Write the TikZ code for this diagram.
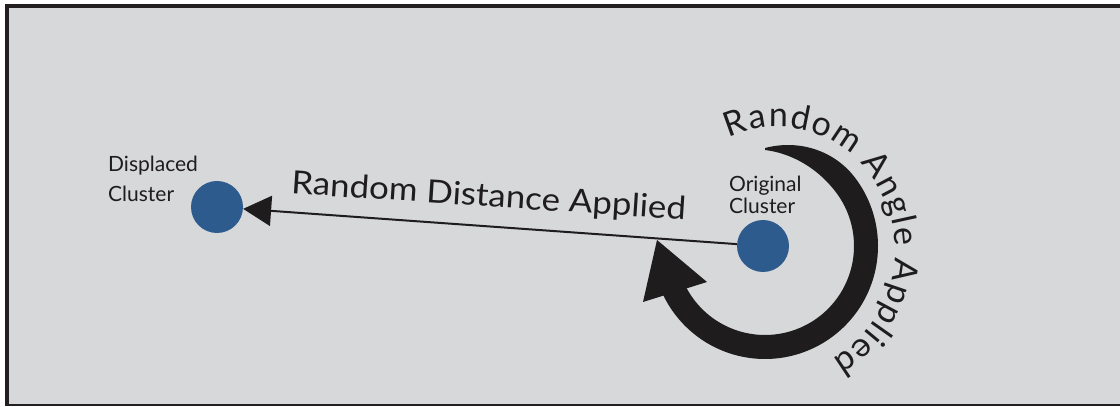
\documentclass[tikz,border=0pt]{standalone}
\usepackage{fontspec}
\setmainfont{Lato}
\usetikzlibrary{arrows.meta,decorations.text}
\definecolor{panelgray}{HTML}{D7D8DA}
\definecolor{framedark}{HTML}{231F20}
\definecolor{clusterblue}{HTML}{2D5B8E}
\definecolor{inkblack}{HTML}{1E1C1D}

\begin{document}
\begin{tikzpicture}[x=1pt,y=1pt,
  cluster/.style={circle,fill=clusterblue,minimum size=52pt,inner sep=0pt},
  smalllabel/.style={text=inkblack,inner sep=0pt,align=left},
  biglabel/.style={font=\fontsize{32}{38}\selectfont,text=inkblack,inner sep=0pt},
  declare function={taper(\t)=sin(min(90,(90-\t)*1.7));}
]
\useasboundingbox (0,0) rectangle (1120,407);
\fill[white] (0,0) rectangle (1120,407);
\fill[panelgray] (5,1) rectangle (1120,403);
% dark frame on top, left and bottom
\fill[framedark] (5,399) rectangle (1120,403);
\fill[framedark] (5,1) rectangle (9,403);
\fill[framedark] (5,1) rectangle (1120,3);

% the two clusters
\node[cluster] (disp) at (217,200) {};
\node[cluster] (orig) at (763,161) {};

% labels (base anchor sits on the last line)
\node[smalllabel, font=\fontsize{21}{30}\selectfont, anchor=base west] (displbl) at (108,205) {Displaced\\Cluster};
\node[smalllabel, font=\fontsize{21}{22}\selectfont, anchor=base west] (origlbl) at (729,193) {Original\\Cluster};
\node[biglabel, rotate=-3.8, anchor=base] (distlbl) at (488,200.4) {\scalebox{1.09}[1]{Random Distance Applied}};

% displacement connector
\draw[line width=2pt, inkblack, -{Triangle[length=28pt,width=30pt]}] (orig) -- (disp);

% tapered rotation arrow around the original cluster
\begin{scope}[shift={(765,161)}]
  \fill[inkblack] plot[domain=90:-156,samples=160] (\x:{113-15*(1-taper(\x))})
    -- plot[domain=-156:90,samples=160] (\x:{89+7*(1-taper(\x))}) -- cycle;
\end{scope}
\fill[inkblack] (657,167) -- (643,105) -- (707,125) -- cycle;

% curved label
\path[decorate, decoration={text along path,
    text={|\fontsize{34}{40}\selectfont\color{inkblack}|Random Angle Applied},
    text align=fit to path}]
  (777,157) ++(114:{118 and 123}) arc[start angle=114, end angle=-62, x radius=118, y radius=123];
\end{tikzpicture}
\end{document}
